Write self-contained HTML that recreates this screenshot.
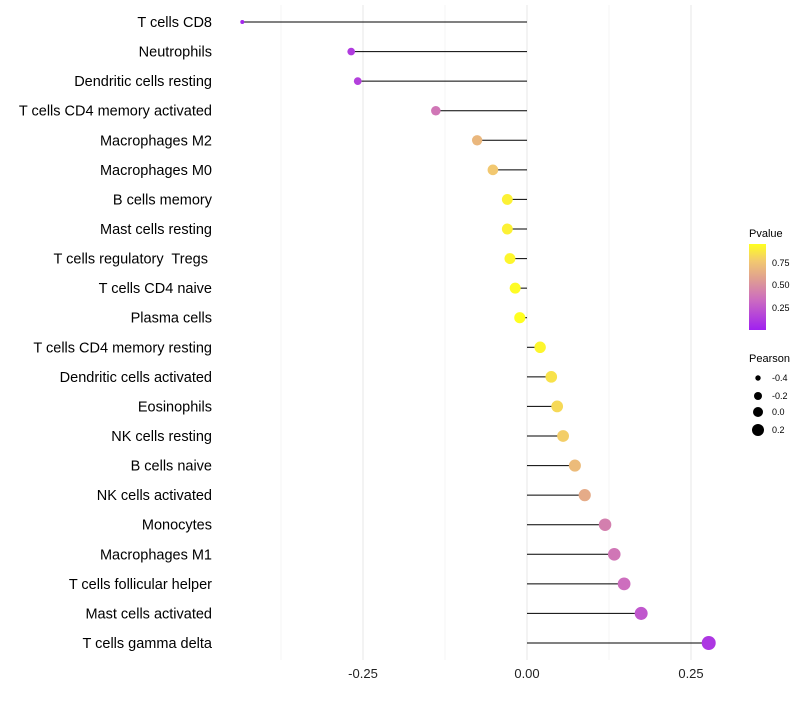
<!DOCTYPE html>
<html><head><meta charset="utf-8"><style>
body{margin:0;background:#fff;font-family:"Liberation Sans",sans-serif}
svg text{font-family:"Liberation Sans",sans-serif;white-space:pre}
</style></head><body>
<svg id="chart" width="800" height="700">
<defs><linearGradient id="pg" x1="0" y1="1" x2="0" y2="0">
<stop offset="0" stop-color="#a020f0"/><stop offset="0.35" stop-color="#cc6cc0"/><stop offset="0.6" stop-color="#e0a090"/><stop offset="0.8" stop-color="#f2c870"/><stop offset="1" stop-color="#ffff20"/>
</linearGradient></defs>
<g id="grid"></g><g id="marks"></g><g id="labels"></g>
<g>
<text x="749" y="237" font-size="11">Pvalue</text>
<rect x="749" y="244" width="17" height="86" fill="url(#pg)"/>
<text x="772" y="266" font-size="9">0.75</text>
<text x="772" y="288" font-size="9">0.50</text>
<text x="772" y="311" font-size="9">0.25</text>
</g>
<g>
<text x="749" y="362" font-size="11">Pearson</text>
<circle cx="758" cy="378" r="2.7"/><text x="772" y="381" font-size="9">-0.4</text>
<circle cx="758" cy="396" r="4"/><text x="772" y="399" font-size="9">-0.2</text>
<circle cx="758" cy="412" r="5"/><text x="772" y="415" font-size="9">0.0</text>
<circle cx="758" cy="430" r="6"/><text x="772" y="433" font-size="9">0.2</text>
</g>
</svg>
<script>
const categories=["T cells CD8","Neutrophils","Dendritic cells resting","T cells CD4 memory activated","Macrophages M2","Macrophages M0","B cells memory","Mast cells resting","T cells regulatory  Tregs ","T cells CD4 naive","Plasma cells","T cells CD4 memory resting","Dendritic cells activated","Eosinophils","NK cells resting","B cells naive","NK cells activated","Monocytes","Macrophages M1","T cells follicular helper","Mast cells activated","T cells gamma delta"];
const pearson=[-0.434,-0.268,-0.258,-0.139,-0.076,-0.052,-0.030,-0.030,-0.026,-0.018,-0.011,0.020,0.037,0.046,0.055,0.073,0.088,0.119,0.133,0.148,0.174,0.277];
const pvalues=[0.03,0.12,0.14,0.38,0.68,0.76,0.9,0.9,0.92,0.94,0.96,0.92,0.85,0.82,0.78,0.7,0.62,0.42,0.38,0.34,0.24,0.1];
const xTicks=[-0.25,0,0.25];
const xTickLabels=["-0.25","0.00","0.25"];
const NS="http://www.w3.org/2000/svg";
const xs=v=>527+v*656;
const ys=i=>22+i*(621/21);
const rs=v=>Math.sqrt(Math.max(1,31.5+63.3*v));
function col(p){const st=[[0,[160,32,240]],[0.35,[204,108,192]],[0.6,[224,160,144]],[0.8,[242,200,112]],[1,[255,255,32]]];
 p=Math.max(0,Math.min(1,p/0.95));for(let k=1;k<st.length;k++){if(p<=st[k][0]){const t=(p-st[k-1][0])/(st[k][0]-st[k-1][0]);const a=st[k-1][1],b=st[k][1];return `rgb(${a.map((c,j)=>Math.round(c+(b[j]-c)*t)).join(',')})`;}}return 'rgb(255,255,32)';}
function mk(tag,at,parent){const e=document.createElementNS(NS,tag);for(const k in at)e.setAttribute(k,at[k]);document.getElementById(parent).appendChild(e);return e;}
[-0.375,-0.125,0.125].forEach(v=>{const l=mk('line',{x1:xs(v),x2:xs(v),y1:5,y2:660,stroke:'#f3f3f3','stroke-width':0.8},'grid');

});
xTicks.forEach((v,i)=>{const l=mk('line',{x1:xs(v),x2:xs(v),y1:5,y2:660,stroke:'#ebebeb','stroke-width':1.2},'grid');


const t=mk('text',{x:xs(v),y:678,'font-size':13,'text-anchor':'middle',fill:'#222'},'labels');t.textContent=xTickLabels[i];

});
categories.forEach((c,i)=>{const y=ys(i);
const s=mk('line',{x1:xs(0),x2:xs(pearson[i]),y1:y,y2:y,stroke:'#000','stroke-width':1},'marks');


const d=mk('circle',{cx:xs(pearson[i]),cy:y,r:rs(pearson[i]),fill:col(pvalues[i])},'marks');


const t=mk('text',{x:212,y:y+5,'font-size':14.5,'text-anchor':'end',fill:'#000'},'labels');t.textContent=c;

});
</script>
</body></html>
